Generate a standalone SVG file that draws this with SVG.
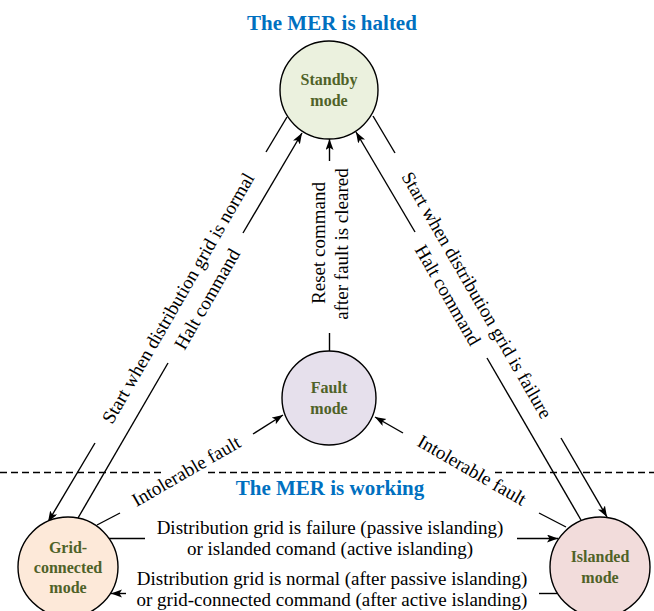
<svg xmlns="http://www.w3.org/2000/svg" width="654" height="611" viewBox="0 0 654 611">
<style>
.node{stroke:#000;stroke-width:1.4}
.nl{font-family:"Liberation Serif",serif;font-weight:bold;font-size:16px;fill:#4F6228;text-anchor:middle}
.lb{font-family:"Liberation Serif",serif;font-size:19px;fill:#000;text-anchor:middle;dominant-baseline:central}
.bl{font-family:"Liberation Serif",serif;font-size:19px;fill:#000;text-anchor:middle}
.title{font-family:"Liberation Serif",serif;font-weight:bold;font-size:21px;fill:#0070C0;text-anchor:middle}
.ln{stroke:#000;stroke-width:1.4;fill:none}
.arr{stroke:#000;stroke-width:1.4;fill:none;marker-end:url(#ah)}
.dash{stroke:#000;stroke-width:1.3;stroke-dasharray:7 4;fill:none}
</style>
<defs>
<marker id="ah" markerUnits="userSpaceOnUse" markerWidth="12" markerHeight="10" refX="11" refY="4" orient="auto">
<path d="M0,0 L11,4 L0,8 L2.5,4 z" fill="#000"/>
</marker>
</defs>
<rect width="654" height="611" fill="#fff"/>
<g id="boundary">
<path class="dash" d="M0,472.5 H163 M208,472.5 H447 M495,472.5 H654"/>
</g>
<text class="title" x="332" y="30">The MER is halted</text>
<text class="title" x="330" y="495">The MER is working</text>
<g id="connectors">
<path class="ln" d="M287,117 L266,152"/>
<path class="arr" d="M95,443 L48,522"/>
<path class="ln" d="M78,518 L168,363"/>
<path class="arr" d="M243,233 L302,133"/>
<path class="ln" d="M373,116 L395,153"/>
<path class="arr" d="M561,438 L607,517"/>
<path class="ln" d="M581,520 L487,358"/>
<path class="arr" d="M415,232 L356,132"/>
<path class="arr" d="M329.5,161 L329.5,139"/>
<path class="ln" d="M329.5,333 L329.5,351"/>
<path class="ln" d="M97,525 L120,513"/>
<path class="arr" d="M253,434 L283,415"/>
<path class="ln" d="M566,527 L539,513"/>
<path class="arr" d="M403,433 L375,417"/>
<path class="ln" d="M109,538.5 L145,538.5"/>
<path class="arr" d="M517,538.5 L558,538.5"/>
<path class="ln" d="M539,593.5 L557,593.5"/>
<path class="arr" d="M126,593.5 L111,593.5"/>
<text class="lb" transform="translate(178,298) rotate(-60)">Start when distribution grid is normal</text>
<text class="lb" transform="translate(207,299) rotate(-60)">Halt command</text>
<text class="lb" transform="translate(477,295) rotate(60)">Start when distribution grid is failure</text>
<text class="lb" transform="translate(448,295) rotate(60)">Halt command</text>
<text class="lb" transform="translate(318,243) rotate(-90)">Reset command</text>
<text class="lb" transform="translate(341,244) rotate(-90)">after fault is cleared</text>
<text class="lb" transform="translate(186,471) rotate(-30)">Intolerable fault</text>
<text class="lb" transform="translate(472,470) rotate(30)">Intolerable fault</text>
<text class="bl" x="330" y="534">Distribution grid is failure (passive islanding)</text>
<text class="bl" x="330" y="555">or islanded comand (active islanding)</text>
<text class="bl" x="332" y="585">Distribution grid is normal (after passive islanding)</text>
<text class="bl" x="332" y="606">or grid-connected command (after active islanding)</text>
</g>
<g id="standby">
<circle class="node" cx="329" cy="90" r="49" fill="#EBF1DE"/>
<text class="nl" x="329" y="85">Standby</text>
<text class="nl" x="329" y="106">mode</text>
</g>
<g id="fault">
<circle class="node" cx="329" cy="398" r="47" fill="#E6E0EC"/>
<text class="nl" x="329" y="393">Fault</text>
<text class="nl" x="329" y="414">mode</text>
</g>
<g id="grid-connected">
<circle class="node" cx="68" cy="567" r="50" fill="#FDE9D9"/>
<text class="nl" x="68" y="553">Grid-</text>
<text class="nl" x="68" y="573">connected</text>
<text class="nl" x="68" y="593">mode</text>
</g>
<g id="islanded">
<circle class="node" cx="600" cy="567" r="50" fill="#F2DCDB"/>
<text class="nl" x="600" y="562">Islanded</text>
<text class="nl" x="600" y="583">mode</text>
</g>
</svg>
